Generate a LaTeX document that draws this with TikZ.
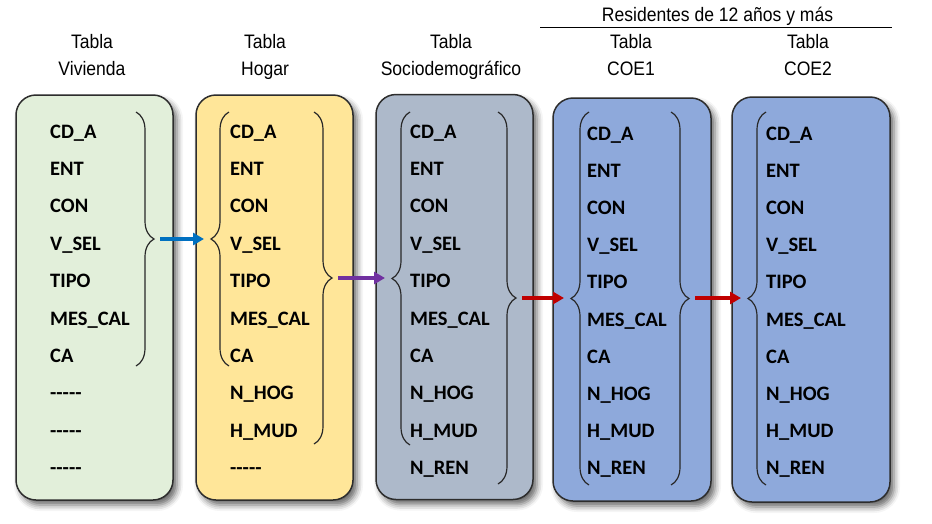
\documentclass[tikz,border=0pt]{standalone}
\usepackage{fontspec}
\setmainfont{Liberation Sans}
\newfontfamily\headfont[FakeStretch=0.9]{Liberation Sans}
\newfontfamily\fieldfont{Carlito}
\usetikzlibrary{arrows.meta,decorations.pathreplacing,shadows.blur}

\definecolor{vivfill}{RGB}{226,239,218}
\definecolor{hogfill}{RGB}{255,230,153}
\definecolor{socfill}{RGB}{173,185,202}
\definecolor{coefill}{RGB}{142,169,219}
\definecolor{boxline}{RGB}{45,45,45}
\definecolor{braceline}{RGB}{40,40,40}
\definecolor{azul}{RGB}{0,112,192}
\definecolor{morado}{RGB}{112,48,160}
\definecolor{rojo}{RGB}{192,0,0}

\newcommand\guiones{-\kern0pt-\kern0pt-\kern0pt-\kern0pt-}

\tikzset{
  tabla/.style={draw=boxline, line width=1.5pt, rounded corners=20pt,
    minimum width=157pt, minimum height=405pt, inner sep=0pt,
    blur shadow={shadow xshift=4pt, shadow yshift=-5pt, shadow blur radius=6pt, shadow opacity=60}},
  campo/.style={anchor=base west, inner sep=0pt, font=\fieldfont\bfseries\fontsize{20.5}{20}\selectfont},
  titulo/.style={align=center, inner sep=0pt, font=\headfont\fontsize{19.5}{27}\selectfont},
  llave/.style={decorate, decoration={brace, amplitude=18pt}, draw=braceline, line width=1.2pt},
  flecha/.style={line width=3.5pt, -{Triangle[length=11pt,width=12pt]}, shorten <=6pt, shorten >=7pt},
}

\begin{document}
\begin{tikzpicture}[x=1pt,y=-1pt]
\useasboundingbox (0,0) rectangle (932,523);

% headers
\node[titulo, anchor=north] (t-viv) at (92,34) {Tabla\\Vivienda};
\node[titulo, anchor=north] (t-hog) at (265,34) {Tabla\\Hogar};
\node[titulo, anchor=north] (t-soc) at (451,34) {Tabla\\Sociodemográfico};
\node[titulo, anchor=north] (t-coe1) at (631,34) {Tabla\\COE1};
\node[titulo, anchor=north] (t-coe2) at (808,34) {Tabla\\COE2};
\node[titulo, anchor=base] (t-res) at (717.5,21) {Residentes de 12 años y más};
\coordinate (res-l) at (540,27);
\coordinate (res-r) at (892,27);
\draw[line width=0.8pt] (res-l) -- (res-r);

% tables
\node[tabla, fill=vivfill] (viv) at (94.5,297.5) {};
\node[tabla, fill=hogfill] (hog) at (274.5,297.5) {};
\node[tabla, fill=socfill] (soc) at (454.5,297) {};
\node[tabla, fill=coefill, minimum width=158pt, minimum height=403pt] (coe1) at (632,299.5) {};
\node[tabla, fill=coefill, minimum width=158pt, minimum height=405pt] (coe2) at (811,299.5) {};

% fields
\foreach \c [count=\i from 0] in {CD\_A,ENT,CON,V\_SEL,TIPO,MES\_CAL,CA,\guiones,\guiones,\guiones}
  \node[campo] (viv-\i) at (50,138+37.4*\i) {\c};
\foreach \c [count=\i from 0] in {CD\_A,ENT,CON,V\_SEL,TIPO,MES\_CAL,CA,N\_HOG,H\_MUD,\guiones}
  \node[campo] (hog-\i) at (230,138+37.4*\i) {\c};
\foreach \c [count=\i from 0] in {CD\_A,ENT,CON,V\_SEL,TIPO,MES\_CAL,CA,N\_HOG,H\_MUD,N\_REN}
  \node[campo] (soc-\i) at (410,138+37.4*\i) {\c};
\foreach \c [count=\i from 0] in {CD\_A,ENT,CON,V\_SEL,TIPO,MES\_CAL,CA,N\_HOG,H\_MUD,N\_REN}
  \node[campo] (coe1-\i) at (587,140+37.2*\i) {\c};
\foreach \c [count=\i from 0] in {CD\_A,ENT,CON,V\_SEL,TIPO,MES\_CAL,CA,N\_HOG,H\_MUD,N\_REN}
  \node[campo] (coe2-\i) at (766,140+37.2*\i) {\c};

% braces
\draw[llave] (136,112) -- (136,366);
\draw[llave] (229,366) -- (229,112);
\draw[llave] (314,112) -- (314,444);
\draw[llave] (410,445) -- (410,112);
\draw[llave] (498,112) -- (498,484);
\draw[llave] (589,485) -- (589,112);
\draw[llave] (671,112) -- (671,485);
\draw[llave] (766,485) -- (766,112);

% brace tips
\coordinate (viv-r) at (154,239);
\coordinate (hog-l) at (211,239);
\coordinate (hog-r) at (332,278);
\coordinate (soc-l) at (392,278);
\coordinate (soc-r) at (516,298);
\coordinate (coe1-l) at (571,298);
\coordinate (coe1-r) at (689,298);
\coordinate (coe2-l) at (748,298);

\draw[flecha, azul] (viv-r) -- (hog-l);
\draw[flecha, morado] (hog-r) -- (soc-l);
\draw[flecha, rojo] (soc-r) -- (coe1-l);
\draw[flecha, rojo] (coe1-r) -- (coe2-l);

\end{tikzpicture}
\end{document}
